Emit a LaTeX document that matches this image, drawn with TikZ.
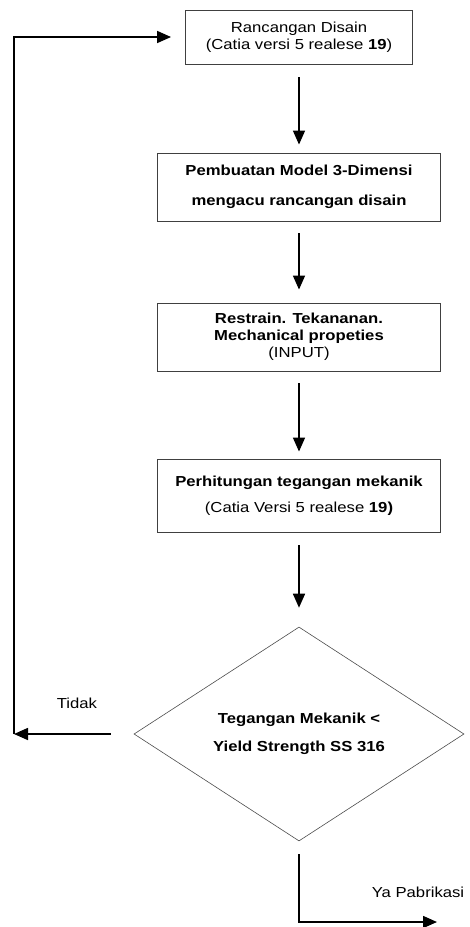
\documentclass[tikz,border=0pt]{standalone}
\usepackage{fontspec}
\setmainfont[FakeStretch=1.15]{Liberation Sans}
\usetikzlibrary{arrows.meta,shapes.geometric}
\def\fsz{\fontsize{14.5}{17}\selectfont}

\begin{document}
\begin{tikzpicture}[x=1pt,y=-1pt,
    box/.style={draw=black!75,line width=0.9pt,minimum width=283pt,minimum height=68pt,align=center,font=\fsz},
    arr/.style={line width=1.6pt,-{Triangle[length=14pt,width=12pt]}}]
    \useasboundingbox (0,0) rectangle (469,927);
    \node[box,minimum width=227pt,minimum height=54pt] (desain) at (299,37) {Rancangan Disain\\(Catia versi 5 realese \textbf{19})};
    \node[box,font=\fsz\bfseries] (model) at (299,187) {Pembuatan Model 3-Dimensi\\[13pt]mengacu rancangan disain};
    \node[box] (input) at (299,337) {\textbf{Restrain. Tekananan.}\\\textbf{Mechanical propeties}\\(INPUT)};
    \node[box,minimum height=73pt] (hitung) at (299,495.5) {\textbf{Perhitungan tegangan mekanik}\\[9pt](Catia Versi 5 realese \textbf{19)}};
    \node[draw=black!70,line width=0.6pt,diamond,aspect=1.54,minimum width=330pt,minimum height=214pt,inner sep=0pt,align=center,font=\fsz\bfseries] (cek) at (299,734) {Tegangan Mekanik <\\[11pt]Yield Strength SS 316};
    \coordinate (kiri) at (14,734);
    \coordinate (ya) at (437,922);
    \draw[arr,shorten <=13pt,shorten >=8pt] (desain) -- (model);
    \draw[arr,shorten <=12pt,shorten >=13pt] (model) -- (input);
    \draw[arr,shorten <=12pt,shorten >=7pt] (input) -- (hitung);
    \draw[arr,shorten <=13pt,shorten >=19pt] (hitung) -- (cek);
    \draw[arr,shorten <=23pt] (cek.west) -- (kiri);
    \draw[arr,shorten >=14pt] (kiri) |- (desain.west);
    \draw[arr,shorten <=13pt] (cek.south) |- (ya);
    \node[font=\fsz] (tidak) at (77,703) {Tidak};
    \node[font=\fsz] (pabrik) at (418,892) {Ya Pabrikasi};
\end{tikzpicture}
\end{document}
